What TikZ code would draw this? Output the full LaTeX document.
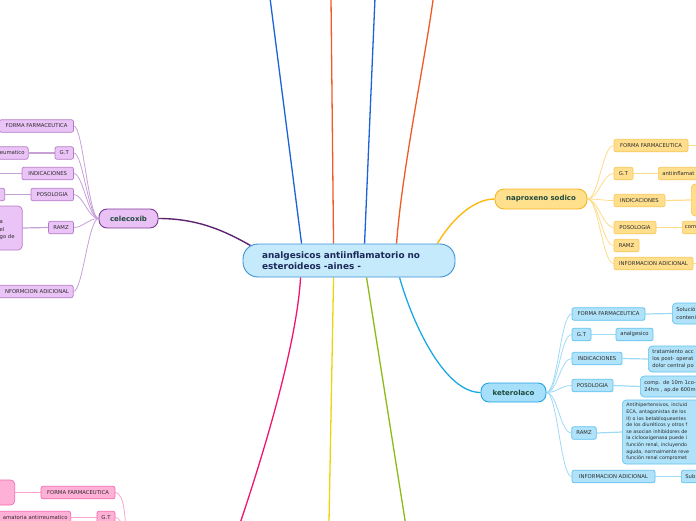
\documentclass[tikz,border=0pt]{standalone}
\usepackage{fontspec}
\setmainfont{DejaVu Sans}
\usetikzlibrary{calc}
\pgfdeclarelayer{bg}
\pgfsetlayers{bg,main}
\definecolor{cfill}{HTML}{C5EAFB}
\definecolor{cdraw}{HTML}{3C91D1}
\definecolor{ctext}{HTML}{1C2A5A}
\definecolor{ntext}{HTML}{1E4A3C}
\definecolor{ltext}{HTML}{2A2A2A}
\definecolor{pufill}{HTML}{E9C1F5}
\definecolor{pudraw}{HTML}{7E3B95}
\definecolor{puline}{HTML}{5E2270}
\definecolor{puchf}{HTML}{EBC4F7}
\definecolor{puchd}{HTML}{B47CC8}
\definecolor{puconn}{HTML}{C7A0D6}
\definecolor{yefill}{HTML}{FFE08C}
\definecolor{yedraw}{HTML}{F5B525}
\definecolor{yeline}{HTML}{FDB813}
\definecolor{yechf}{HTML}{FFDF8E}
\definecolor{yechd}{HTML}{F8C85A}
\definecolor{yeconn}{HTML}{FFDC8A}
\definecolor{blfill}{HTML}{A6DFF9}
\definecolor{bldraw}{HTML}{1FA5E3}
\definecolor{blline}{HTML}{1BA8E3}
\definecolor{blchf}{HTML}{B0E3FA}
\definecolor{blchd}{HTML}{5EC2EE}
\definecolor{blconn}{HTML}{9ED9F5}
\definecolor{pkchf}{HTML}{FFB0D6}
\definecolor{pkchd}{HTML}{F26BAE}
\definecolor{pkconn}{HTML}{FFA3CF}
\definecolor{mblue}{HTML}{1B63D6}
\definecolor{morange}{HTML}{F15A24}
\definecolor{mpink}{HTML}{F0166E}
\definecolor{myellow}{HTML}{EAD40C}
\definecolor{mgreen}{HTML}{8CBB16}
\tikzset{
  lbl/.style={font=\fontsize{5.3}{6.5}\selectfont, text=ltext, inner sep=0pt,
    rounded corners=2pt, line width=0.7pt, minimum height=12.5pt},
  gbox/.style={font=\fontsize{5.3}{7.2}\selectfont, text=ltext, inner ysep=0pt,
    inner xsep=4pt, rounded corners=4pt, line width=0.7pt, align=left},
  pch/.style={lbl, fill=puchf, draw=puchd},
  nch/.style={lbl, fill=yechf, draw=yechd},
  kch/.style={lbl, fill=blchf, draw=blchd},
  kch2/.style={gbox, fill=blchf, draw=blchd},
  pkch/.style={lbl, fill=pkchf, draw=pkchd},
  topic/.style={font=\bfseries\fontsize{7}{8}\selectfont, text=ntext, inner sep=0pt,
    rounded corners=8pt, line width=0.9pt},
  pconn/.style={draw=puconn, line width=0.8pt},
  nconn/.style={draw=yeconn, line width=0.8pt},
  kconn/.style={draw=blconn, line width=0.8pt},
  pkconn/.style={draw=pkconn, line width=0.8pt},
  gconnP/.style={draw=puconn, line width=1.2pt},
  gconnN/.style={draw=yeconn, line width=1.2pt},
  gconnK/.style={draw=blconn, line width=1.2pt},
  gconnPK/.style={draw=pkconn, line width=1.2pt},
  main/.style={line width=1.3pt},
}
\begin{document}
\begin{tikzpicture}[x=1pt,y=-1pt]
\useasboundingbox (0,0) rectangle (696,520);

% central node
\node[fill=cfill, draw=cdraw, line width=0.9pt, rounded corners=15pt,
  minimum width=212pt, minimum height=33pt, text width=174pt, align=left,
  inner sep=0pt, text=ctext, font=\bfseries\fontsize{8.9}{11}\selectfont]
  (c) at (349,260.5) {analgesicos antiinflamatorio no\\esteroideos -aines -};

% main topics
\node[topic, fill=pufill, draw=pudraw, minimum width=59pt, minimum height=19pt] (cel) at (128.5,218.5) {celecoxib};
\node[topic, fill=yefill, draw=yedraw, minimum width=92pt, minimum height=20pt, rounded corners=9pt] (nap) at (541,199) {naproxeno sodico};
\node[topic, fill=blfill, draw=bldraw, minimum width=65pt, minimum height=19pt] (ket) at (513.5,392.5) {keterolaco};

% celecoxib children
\node[pch, minimum width=74pt] (cf) at (36.5,126) {FORMA FARMACEUTICA};
\node[pch, minimum width=18.5pt] (cg) at (64.25,153) {G.T};
\node[pch, anchor=east, text width=55pt, align=right, inner xsep=3.5pt] (cgc) at (28.5,153) {eumatico};
\node[pch, minimum width=51.5pt] (ci) at (47.75,173.5) {INDICACIONES};
\coordinate (cicE) at (-3,173.5);
\node[pch, minimum width=42.5pt] (cp) at (52.25,194.5) {POSOLOGIA};
\node[pch, anchor=east, minimum width=30pt] (cpc) at (5,194.5) {};
\node[pch, minimum width=25pt] (cr) at (61,227.5) {RAMZ};
\node[pch, anchor=east, minimum width=50pt, minimum height=44pt, rounded corners=4pt] (crc) at (22.5,228) {};
\node[font=\fontsize{5.3}{7.5}\selectfont, text=ltext, anchor=west, align=left, inner sep=0pt] (crct) at (-0.5,230.5) {a\\el\\go de};
\node[pch, anchor=east, text width=70pt, align=right, inner xsep=4.25pt] (cinfo) at (73.5,291.5) {NFORMCION ADICIONAL};

% naproxeno children
\node[nch, minimum width=74pt] (nf) at (651,145.5) {FORMA FARMACEUTICA};
\coordinate (nfE) at (700,145.5);
\node[nch, minimum width=19pt] (ng) at (623.5,173.5) {G.T};
\node[nch, anchor=west, text width=60pt, align=left, inner xsep=4pt] (ngc) at (658,173.5) {antiinflamat};
\node[nch, minimum width=51pt] (ni) at (639.5,200.5) {INDICACIONES};
\node[nch, anchor=west, minimum width=30pt, minimum height=32pt, rounded corners=4pt] (nic) at (691,200) {};
\node[nch, minimum width=42pt] (np) at (635,227.5) {POSOLOGIA};
\node[nch, anchor=west, text width=40pt, align=left, inner xsep=2.5pt] (npc) at (682,227.5) {com};
\node[nch, minimum width=25pt] (nr) at (626.5,245.5) {RAMZ};
\node[nch, minimum width=79pt] (nia) at (653.5,263.5) {INFORMACION ADICIONAL};
\coordinate (niaE) at (700,263.5);

% keterolaco children
\node[kch, minimum width=73pt] (kf) at (608.5,314) {FORMA FARMACEUTICA};
\node[kch2, anchor=west, text width=60pt, minimum height=21pt] (kfc) at (672,313.5) {Solució\\conteni};
\node[kch, minimum width=19pt] (kg) at (581.5,334.5) {G.T};
\node[kch, minimum width=37pt] (kgc) at (634.5,334.5) {analgesico};
\node[kch, minimum width=50pt] (ki) at (597,358.5) {INDICACIONES};
\node[kch2, anchor=west, text width=70pt, minimum height=26pt, font=\fontsize{5.2}{7}\selectfont] (kic) at (648,359) {tratamiento acc\\los post- operat\\dolor central po};
\node[kch, minimum width=41pt] (kp) at (592.5,385.5) {POSOLOGIA};
\node[kch2, anchor=west, text width=70pt, minimum height=21pt, font=\fontsize{5.2}{7.2}\selectfont] (kpc) at (640,386.5) {comp. de 10m 1co-\\24hrs , ap.de 600m};
\node[kch, minimum width=24.5pt] (kr) at (584,433) {RAMZ};
\node[kch2, anchor=west, text width=90pt, minimum height=64pt, font=\fontsize{4.8}{6.6}\selectfont] (krc) at (622,432) {Antihipertensivos, incluid\\ECA, antagonistas de los\\II) o los betabloqueantes\\de los diuréticos y otros f\\se asocian inhibidores de\\la ciclooxigenasa puede i\\función renal, incluyendo\\aguda, normalmente reve\\función renal compromet};
\node[kch, minimum width=83pt] (kia) at (613.5,476.5) {INFORMACION ADICIONAL};
\node[kch, anchor=west, text width=30pt, align=left, inner xsep=4pt] (kiac) at (681,476.5) {Sub};

% pink bottom-left branch
\node[pkch, anchor=east, minimum width=40pt, minimum height=25pt, rounded corners=4pt] (pb) at (15,492.5) {};
\node[pkch, minimum width=74pt] (pf) at (78,492.5) {FORMA FARMACEUTICA};
\node[pkch, minimum width=18pt] (pg) at (106,517.5) {G.T};
\node[pkch, anchor=east, text width=80pt, align=right, inner xsep=3pt] (pgc) at (71,517.5) {amatoria antirreumatico};
\coordinate (pj) at (126,545);

% free ends of main lines
\coordinate (t1) at (270,-2);
\coordinate (t2) at (331,-2);
\coordinate (t3) at (375,-2);
\coordinate (t4) at (433.3,-2);
\coordinate (b1) at (240.5,522);
\coordinate (b2) at (329,522);
\coordinate (b3) at (405.3,522);

\begin{pgfonlayer}{bg}
\clip (0,0) rectangle (696,520);
% main lines from centre
\draw[main, mblue] ($(c.north west)+(59,0)$) -- (t1);
\draw[main, morange] ($(c.north west)+(91,0)$) -- (t2);
\draw[main, mblue] ($(c.north west)+(122,0)$) -- (t3);
\draw[main, morange] ($(c.north west)+(154,0)$) .. controls (402,170) and (425,60) .. (t4);
\draw[main, mpink] ($(c.south west)+(58,0)$) .. controls (297,340) and (268,440) .. (b1);
\draw[main, myellow] ($(c.south west)+(91,0)$) -- (b2);
\draw[main, mgreen] ($(c.south west)+(124,0)$) -- (b3);
\draw[main, blline] ($(c.south west)+(157,0)$) .. controls (413,325) and (445,392.5) .. (ket.west);
\draw[main, puline, line width=1.4pt] (cel.east) .. controls (198,218.5) and (225,231) .. ($(c.north west)+(8,2)$);
\draw[main, yeline, line width=1.4pt] (nap.west) .. controls (472,199) and (450,222) .. ($(c.north east)+(-18,0)$);

% celecoxib connectors
\foreach \n in {cf,cg,ci,cp,cr,cinfo}
  \draw[pconn] (\n.east) .. controls +(9,0) and +(-10,0) .. (cel.west);
\draw[gconnP] (cgc.east) -- (cg.west);
\draw[gconnP] (cicE) -- (ci.west);
\draw[gconnP] (cpc.east) -- (cp.west);
\draw[gconnP] (crc.east) -- (cr.west);

% naproxeno connectors
\foreach \n in {nf,ng,ni,np,nr,nia}
  \draw[nconn] (nap.east) .. controls +(11,0) and +(-11,0) .. (\n.west);
\draw[gconnN] (nf.east) -- (nfE);
\draw[gconnN] (ng.east) -- (ngc.west);
\draw[gconnN] (ni.east) -- (nic.west);
\draw[gconnN] (np.east) -- (npc.west);
\draw[gconnN] (nia.east) -- (niaE);

% keterolaco connectors
\foreach \n in {kf,kg,ki,kp,kr,kia}
  \draw[kconn] (ket.east) .. controls +(11,0) and +(-11,0) .. (\n.west);
\draw[gconnK] (kf.east) -- (kfc.west);
\draw[gconnK] (kg.east) -- (kgc.west);
\draw[gconnK] (ki.east) -- (kic.west);
\draw[gconnK] (kp.east) -- (kpc.west);
\draw[gconnK] (kr.east) -- (krc.west);
\draw[gconnK] (kia.east) -- (kiac.west);

% pink connectors
\draw[gconnPK] (pb.east) -- (pf.west);
\draw[gconnPK] (pgc.east) -- (pg.west);
\draw[pkconn] (pf.east) .. controls +(9,0) and +(0,-25) .. (pj);
\draw[pkconn] (pg.east) .. controls +(6,0) and +(0,-12) .. (pj);
\end{pgfonlayer}
\end{tikzpicture}
\end{document}
